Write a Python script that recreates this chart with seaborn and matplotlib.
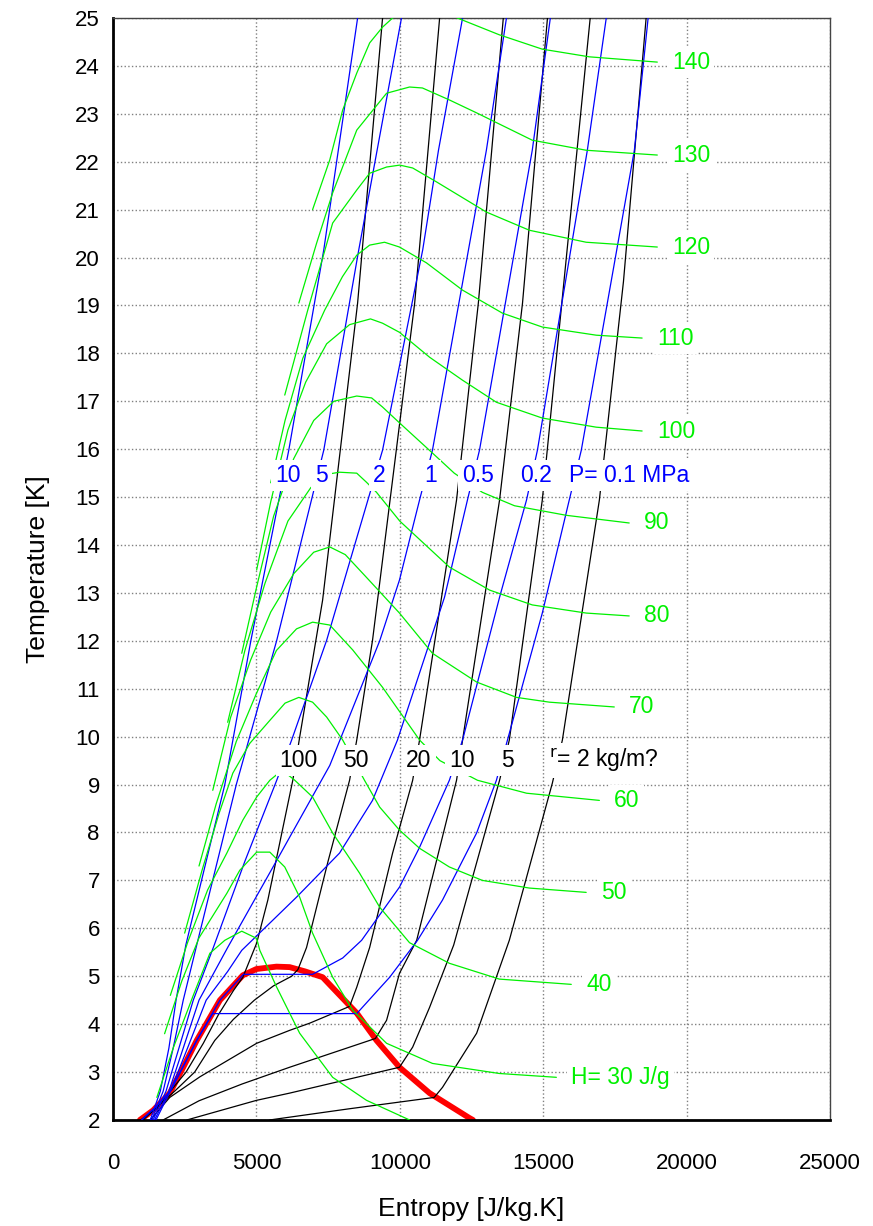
import matplotlib
matplotlib.use("Agg")
import matplotlib.pyplot as plt
import seaborn as sns
import numpy as np

# ---- saturation dome (entropy J/kg.K, temperature K) ----
dome = [(940, 2.0), (1400, 2.2), (1980, 2.56), (2450, 3.1), (2920, 3.66), (3730, 4.5),
        (4530, 5.02), (5000, 5.15), (5700, 5.2), (6160, 5.19), (6700, 5.1), (7310, 4.98),
        (8500, 4.23), (9190, 3.66), (9990, 3.10), (11040, 2.56), (12430, 2.04), (12550, 2.0)]

# ---- isobars [MPa] ----
isobar_10 = [(1300, 2.0), (1650, 2.6), (1950, 3.5), (2200, 4.5), (2540, 5.65), (3900, 9.0),
             (4810, 12.01), (6130, 15.98), (7350, 20.16), (8530, 25.0)]
isobar_5 = [(1350, 2.0), (1750, 2.6), (2100, 3.5), (2450, 4.5), (2920, 5.65), (4300, 9.0),
            (5710, 12.01), (7350, 15.98), (8570, 20.16), (9210, 22.24), (10060, 25.0)]
isobar_2 = [(1400, 2.0), (1850, 2.6), (2300, 3.5), (2800, 4.5), (3500, 5.6), (4600, 7.4),
            (5710, 9.09), (6230, 9.93), (7450, 12.01), (9400, 15.98), (10800, 20.16),
            (11350, 22.24), (12190, 25.0)]
isobar_1 = [(1450, 2.0), (1950, 2.6), (2450, 3.5), (3000, 4.5), (4000, 5.6), (5600, 7.3),
            (7560, 9.4), (9300, 12.0), (9990, 13.27), (10690, 14.94), (11140, 15.98),
            (13020, 22.24), (13720, 25.0)]
isobar_05 = [(1500, 2.0), (2000, 2.6), (2600, 3.5), (3250, 4.5), (4000, 5.1), (4490, 5.54),
             (6400, 6.65), (7900, 7.57), (9050, 8.67), (9920, 9.93), (11560, 12.91),
             (12360, 14.94), (12780, 15.98), (14620, 22.24), (15250, 25.0)]
isobar_02 = [(1000, 2.0), (1450, 2.25), (2000, 2.6), (2920, 3.66), (3730, 4.5), (4550, 5.04),
             (6960, 5.04), (8010, 5.38), (8670, 5.75), (9990, 6.86), (10690, 7.69),
             (11730, 9.09), (12190, 9.93), (13480, 12.91), (14420, 14.94), (14800, 15.98),
             (16540, 22.24), (17200, 25.0)]
isobar_01 = [(1000, 2.0), (1450, 2.25), (2000, 2.6), (2920, 3.66), (3480, 4.22), (8500, 4.22),
             (9650, 4.98), (10620, 5.75), (11490, 6.59), (12680, 7.99), (13370, 9.09),
             (13820, 10.07), (14970, 12.58), (15910, 14.94), (16330, 15.98), (18180, 22.24),
             (18660, 25.0)]
isobars = {"10": isobar_10, "5": isobar_5, "2": isobar_2, "1": isobar_1,
           "0.5": isobar_05, "0.2": isobar_02, "0.1": isobar_01}

# ---- isochores [kg/m3] ----
rho_100 = [(970, 2.0), (1550, 2.25), (2000, 2.6), (2550, 3.0), (3150, 3.6), (3680, 4.2),
           (4200, 4.7), (4530, 4.98), (5010, 5.69), (5400, 6.59), (6270, 9.09), (6510, 9.99),
           (7310, 12.85), (8530, 19.05), (9400, 25.0)]
rho_50 = [(1050, 2.0), (1500, 2.25), (2150, 2.6), (2850, 3.0), (3550, 3.66), (4200, 4.1),
          (4930, 4.5), (5600, 4.8), (6230, 5.0), (6450, 5.14), (6750, 5.6), (7500, 7.4),
          (8250, 9.09), (8500, 9.93), (9050, 12.01), (10520, 19.05), (11390, 25.0)]
rho_20 = [(1300, 2.0), (1980, 2.47), (3030, 2.9), (5010, 3.6), (6160, 3.87), (6860, 4.02),
          (8250, 4.37), (8500, 4.77), (8950, 5.6), (9750, 7.57), (10450, 9.09), (10690, 9.93),
          (11980, 14.94), (12740, 19.05), (13610, 25.0)]
rho_10 = [(1750, 2.0), (3000, 2.4), (4500, 2.75), (6160, 3.10), (9150, 3.70), (9540, 4.08),
          (9990, 5.06), (10590, 5.75), (11980, 9.09), (12190, 9.93), (13480, 14.94),
          (14280, 19.05), (15150, 25.0)]
rho_5 = [(2580, 2.0), (5010, 2.41), (6160, 2.56), (9990, 3.10), (10450, 3.52), (11040, 4.35),
         (11880, 5.65), (13480, 9.09), (13820, 9.93), (14970, 14.94), (15650, 19.05),
         (16640, 25.0)]
rho_2 = [(5470, 2.0), (8200, 2.23), (11200, 2.47), (11490, 2.68), (12680, 3.81), (13820, 5.75),
         (15320, 9.03), (15670, 9.93), (16960, 14.94), (17800, 19.5), (18590, 25.0)]
isochores = {"100": rho_100, "50": rho_50, "20": rho_20, "10": rho_10, "5": rho_5, "2": rho_2}

# ---- isenthalps [J/g] ----
h_140 = [(6960, 21.0), (7560, 22.04), (8010, 23.08), (8500, 23.85), (8950, 24.48), (9400, 24.81),
         (9750, 25.0), (10900, 25.35), (12010, 25.0), (13470, 24.65), (14970, 24.35),
         (16610, 24.19), (18980, 24.08)]
h_130 = [(6480, 19.05), (7100, 20.3), (7660, 21.35), (8500, 22.66), (9540, 23.43), (10340, 23.56),
         (10790, 23.54), (11730, 23.29), (12680, 23.02), (14620, 22.45), (16500, 22.24),
         (18980, 22.14)]
h_120 = [(5990, 17.13), (6790, 18.9), (7660, 20.72), (8500, 21.41), (8950, 21.76), (9540, 21.89),
         (10000, 21.93), (10450, 21.87), (11280, 21.58), (13020, 20.95), (14520, 20.57),
         (16500, 20.32), (18980, 20.22)]
h_110 = [(5500, 15.3), (6000, 16.6), (6620, 17.9), (7380, 18.9), (8000, 19.6), (8500, 20.05),
         (8950, 20.26), (9470, 20.32), (9990, 20.22), (10930, 19.89), (12190, 19.32),
         (13580, 18.84), (14970, 18.55), (16850, 18.38), (18450, 18.32)]
h_100 = [(5010, 13.48), (5500, 14.9), (6100, 16.4), (6720, 17.4), (7450, 18.2), (8250, 18.6),
         (8980, 18.72), (9400, 18.63), (9990, 18.44), (11040, 17.92), (12190, 17.44),
         (13370, 16.98), (14970, 16.65), (16850, 16.46), (18450, 16.38)]
h_90 = [(4490, 11.74), (5000, 13.1), (5600, 14.6), (6300, 15.8), (7000, 16.6), (7700, 17.0),
        (8500, 17.11), (9020, 17.07), (9400, 16.88), (9990, 16.55), (11140, 15.92),
        (11900, 15.5), (12880, 15.1), (14000, 14.82), (15810, 14.62), (18000, 14.46)]
h_80 = [(4000, 10.3), (4600, 11.8), (5300, 13.2), (6100, 14.5), (6900, 15.2), (7500, 15.48),
        (7900, 15.52), (8500, 15.5), (8840, 15.31), (9190, 15.1), (10000, 14.5), (10450, 14.25),
        (11730, 13.54), (13130, 13.06), (14620, 12.75), (16500, 12.58), (18000, 12.52)]
h_70 = [(3480, 8.88), (4100, 10.4), (4800, 11.6), (5500, 12.6), (6300, 13.4), (7000, 13.85),
        (7560, 13.96), (8100, 13.8), (8800, 13.35), (9990, 12.58), (11140, 11.74),
        (12680, 11.14), (14070, 10.82), (15220, 10.72), (17480, 10.62)]
h_60 = [(3000, 7.3), (3600, 8.6), (4300, 9.9), (5000, 10.9), (5700, 11.8), (6400, 12.25),
        (6960, 12.39), (7560, 12.33), (8360, 11.81), (9400, 11.03), (10690, 9.93), (11400, 9.5),
        (12710, 9.09), (14420, 8.82), (16960, 8.67)]
h_50 = [(2500, 5.9), (3100, 7.2), (3700, 8.4), (4180, 9.24), (4770, 9.86), (5470, 10.34),
        (6000, 10.7), (6480, 10.82), (6960, 10.72), (7450, 10.41), (8010, 9.93), (8770, 9.09),
        (9300, 8.53), (9990, 8.05), (10690, 7.67), (11730, 7.28), (12880, 7.0), (14520, 6.84),
        (16500, 6.75)]
h_40 = [(2000, 4.6), (2600, 5.7), (3300, 6.8), (3970, 7.57), (4530, 8.26), (5010, 8.74),
        (5470, 9.09), (5900, 9.3), (6340, 9.09), (6960, 8.74), (7660, 7.99), (8600, 7.15),
        (9300, 6.44), (10340, 5.7), (11730, 5.27), (13470, 4.94), (15980, 4.83)]
h_30 = [(1800, 3.8), (2400, 4.9), (3000, 5.8), (3970, 6.73), (4420, 7.21), (5010, 7.59),
        (5470, 7.59), (5990, 7.28), (6510, 6.65), (6960, 5.9), (7660, 4.98), (8360, 4.29),
        (9540, 3.6), (11140, 3.18), (13470, 2.97), (15460, 2.89)]
h_20 = [(1530, 2.47), (2100, 3.5), (2800, 4.6), (3380, 5.48), (3900, 5.75), (4490, 5.94),
        (5010, 5.79), (5120, 5.54), (5710, 4.77), (6510, 3.81), (7660, 2.89), (8840, 2.41),
        (10340, 2.0)]
isenthalps = {"140": h_140, "130": h_130, "120": h_120, "110": h_110, "100": h_100,
              "90": h_90, "80": h_80, "70": h_70, "60": h_60, "50": h_50, "40": h_40,
              "H= 30 J/g": h_30, "": h_20}

GREEN = "#00f000"
BLUE = "#0000ff"

sns.set_style("white")
plt.rcParams["font.family"] = ["Liberation Sans", "DejaVu Sans"]
plt.rcParams["text.color"] = "black"
plt.rcParams["axes.labelcolor"] = "black"
plt.rcParams["xtick.color"] = "black"
plt.rcParams["ytick.color"] = "black"

fig = plt.figure(figsize=(8.73, 12.26), dpi=100)
ax = fig.add_axes([0.1294, 0.0865, 0.8213, 0.8988])


def draw(points, color, lw, z):
    s, t = zip(*points)
    sns.lineplot(x=list(s), y=list(t), sort=False, estimator=None, color=color,
                 linewidth=lw, ax=ax, zorder=z)


def crossing(points, level):
    s, t = zip(*points)
    return float(np.interp(level, t, s))


draw(dome, "red", 4.2, 2)
for pts in isochores.values():
    draw(pts, "black", 0.9, 3)
for pts in isobars.values():
    draw(pts, BLUE, 0.9, 3)
for pts in isenthalps.values():
    draw(pts, GREEN, 0.9, 4)

box = dict(facecolor="white", edgecolor="none", pad=3)

# pressure labels
p_row = 15.45
for name, pts in isobars.items():
    xc = crossing(pts, p_row)
    if name == "0.1":
        ax.text(xc - 200, p_row, "P= 0.1 MPa", color=BLUE, fontsize=16.5, ha="left",
                va="center", bbox=box, zorder=6)
    else:
        ax.text(xc + 150, p_row, name, color=BLUE, fontsize=16.5, ha="center",
                va="center", bbox=box, zorder=6)

# density labels
d_row = 9.5
for name, pts in isochores.items():
    xc = crossing(pts, d_row)
    if name == "2":
        ax.text(xc - 300, d_row, "$^{\\mathrm{r}}$= 2 kg/m?", color="black", fontsize=16.5,
                ha="left", va="center", bbox=box, zorder=6)
    else:
        ax.text(xc + 100, d_row, name, color="black", fontsize=16.5, ha="center",
                va="center", bbox=box, zorder=6)

# enthalpy labels at the right end of each line
for name, pts in isenthalps.items():
    if not name:
        continue
    s_end, t_end = pts[-1]
    ax.text(s_end + 520, t_end, name, color=GREEN, fontsize=16.5, ha="left",
            va="center", bbox=box, zorder=6)

ax.set_xlim(0, 25000)
ax.set_ylim(2, 25)
ax.set_xticks(range(0, 25001, 5000))
ax.set_yticks(range(2, 26))
ax.grid(True, linestyle=":", color="gray", linewidth=1)
ax.tick_params(direction="inout", length=12, width=1.5, labelsize=16,
               top=False, right=False)
ax.tick_params(axis="x", pad=18)
for side in ["left", "bottom"]:
    ax.spines[side].set_linewidth(2)
    ax.spines[side].set_color("black")
for side in ["top", "right"]:
    ax.spines[side].set_linewidth(1)
    ax.spines[side].set_color("#444444")
ax.set_xlabel("Entropy [J/kg.K]", fontsize=19, labelpad=16)
ax.set_ylabel("Temperature [K]", fontsize=19, labelpad=18)

fig.savefig("out.png", dpi=100)
